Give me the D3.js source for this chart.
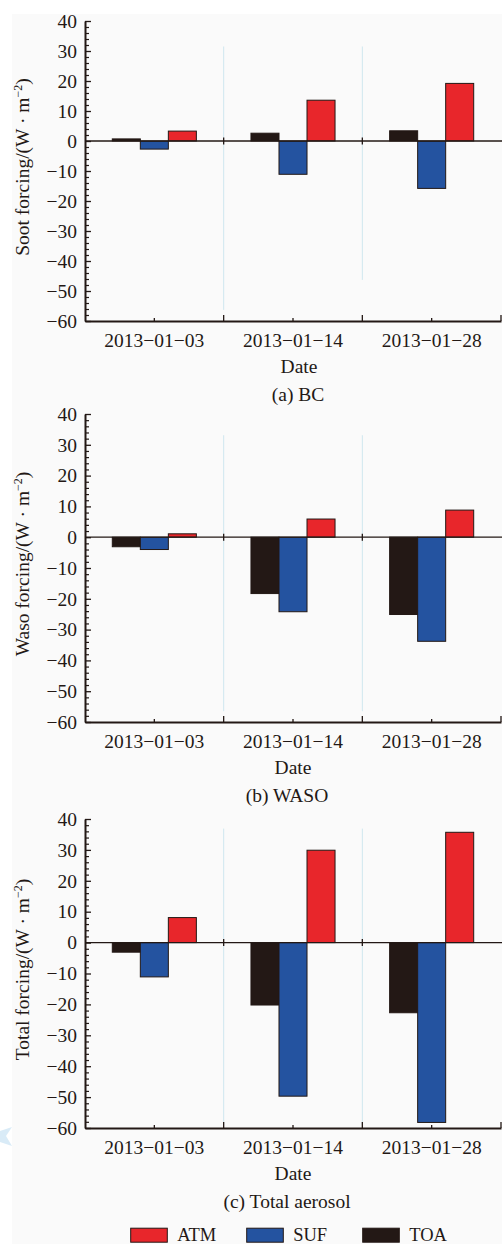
<!DOCTYPE html>
<html>
<head>
<meta charset="utf-8">
<script src="https://cdn.jsdelivr.net/npm/d3@7"></script>
<style>
  html, body { margin: 0; padding: 0; background: #fff; }
  svg { display: block; }
  text { font-family: "Liberation Serif", "DejaVu Serif", serif; fill: #231815; }
</style>
</head>
<body>
<svg id="chart" width="502" height="1244"></svg>
<script>
/************ data ************/
var dates = ["2013\u221201\u221203", "2013\u221201\u221214", "2013\u221201\u221228"];
var seriesNames = ["TOA", "SUF", "ATM"];
var legendOrder = ["ATM", "SUF", "TOA"];
var yTicks = [40, 30, 20, 10, 0, -10, -20, -30, -40, -50, -60];

// (a) BC
var bcTOA = [0.7, 2.6, 3.4];
var bcSUF = [-2.7, -11.1, -15.8];
var bcATM = [3.3, 13.6, 19.2];
// (b) WASO
var wasoTOA = [-3.1, -18.3, -25.1];
var wasoSUF = [-4.0, -24.2, -33.8];
var wasoATM = [1.1, 5.9, 8.8];
// (c) Total aerosol
var totTOA = [-3.1, -20.2, -22.7];
var totSUF = [-11.1, -49.7, -58.2];
var totATM = [8.1, 29.9, 35.7];

/************ styles / layout ************/
var colors = { ATM: "#e8262b", SUF: "#2453a0", TOA: "#231815" };
var ink = "#231815";
var fontSize = 19.5;

var panels = [
  { name: "Soot", caption: "(a) BC", top: 21, bottom: 321, dateX: 299, capX: 298,
    values: { TOA: bcTOA, SUF: bcSUF, ATM: bcATM }, guides: [[31.5, -56.3], [31.5, -46.3]] },
  { name: "Waso", caption: "(b) WASO", top: 414, bottom: 722, dateX: 293, capX: 287,
    values: { TOA: wasoTOA, SUF: wasoSUF, ATM: wasoATM }, guides: [[33.1, -56.5], [33.1, -56.5]] },
  { name: "Total", caption: "(c) Total aerosol", top: 819, bottom: 1128, dateX: 293, capX: 287,
    values: { TOA: totTOA, SUF: totSUF, ATM: totATM }, guides: [[36.9, -59.2], [36.9, -59.2]] }
];

var left = 85, right = 501;

var svg = d3.select("#chart");

// page background (scan tint)
svg.append("rect").attr("x", 12).attr("y", 14).attr("width", 490).attr("height", 1230).attr("fill", "#fafafa");

// faint watermark mark at left edge
svg.append("path")
  .attr("d", "M0,1131 L12,1127 L6,1136 L12,1146 L0,1142 Z")
  .attr("fill", "#cfe6f5").attr("opacity", 0.8);

var x0 = d3.scaleBand().domain(dates).range([left, right]).paddingInner(0).paddingOuter(0);
var x1 = d3.scaleBand().domain(seriesNames).range([27.3, x0.bandwidth() - 27.3]).padding(0);

panels.forEach(function (p) {
  var y = d3.scaleLinear().domain([-60, 40]).range([p.bottom, p.top]);
  var g = svg.append("g");

  // light blue separator guides
  dates.slice(1).forEach(function (d, i) {
    g.append("line")
      .attr("x1", x0(d)).attr("x2", x0(d))
      .attr("y1", y(p.guides[i][0])).attr("y2", y(p.guides[i][1]))
      .attr("stroke", "#cfe7ef").attr("stroke-width", 1);
  });

  // bars
  var rows = [];
  dates.forEach(function (d, i) {
    seriesNames.forEach(function (s) { rows.push({ date: d, key: s, v: p.values[s][i] }); });
  });
  g.selectAll("rect.bar").data(rows).enter().append("rect")
    .attr("class", "bar")
    .attr("x", function (d) { return x0(d.date) + x1(d.key); })
    .attr("width", x1.bandwidth())
    .attr("y", function (d) { return y(Math.max(0, d.v)); })
    .attr("height", function (d) { return Math.abs(y(d.v) - y(0)); })
    .attr("fill", function (d) { return colors[d.key]; })
    .attr("stroke", ink).attr("stroke-width", 1);

  // zero line + little crossing ticks at group boundaries
  g.append("line").attr("x1", left).attr("x2", right + 1).attr("y1", y(0)).attr("y2", y(0))
    .attr("stroke", ink).attr("stroke-width", 1.3);
  dates.slice(1).forEach(function (d) {
    g.append("line").attr("x1", x0(d)).attr("x2", x0(d)).attr("y1", y(0) - 3.5).attr("y2", y(0) + 3.5)
      .attr("stroke", ink).attr("stroke-width", 1.3);
  });

  // y axis: minor ticks then major
  var minor = d3.range(-60, 41, 2).filter(function (v) { return v % 10 !== 0; });
  g.append("g").attr("transform", "translate(" + left + ",0)")
    .call(d3.axisLeft(y).tickValues(minor).tickSize(-4).tickSizeOuter(0).tickFormat(""))
    .call(function (a) { a.select(".domain").remove(); a.selectAll("line").attr("stroke", ink).attr("stroke-width", 1.2); });
  g.append("g").attr("transform", "translate(" + left + ",0)")
    .call(d3.axisLeft(y).tickValues(yTicks).tickSize(-6).tickSizeOuter(0).tickPadding(8)
      .tickFormat(function (v) { return v < 0 ? "\u2212" + Math.abs(v) : v; }))
    .call(function (a) {
      a.select(".domain").attr("stroke", ink).attr("stroke-width", 2);
      a.selectAll("line").attr("stroke", ink).attr("stroke-width", 1.3);
      a.selectAll("text").attr("font-size", fontSize).attr("font-family", "Liberation Serif").attr("fill", ink);
    });

  // x axis
  var xa = g.append("g").attr("transform", "translate(0," + p.bottom + ")")
    .call(d3.axisBottom(x0).tickSize(-3).tickSizeOuter(0).tickPadding(12))
    .call(function (a) {
      a.select(".domain").attr("stroke", ink).attr("stroke-width", 2);
      a.selectAll("line").attr("stroke", ink).attr("stroke-width", 1.3);
      a.selectAll("text").attr("font-size", fontSize).attr("font-family", "Liberation Serif").attr("fill", ink);
    });
  dates.slice(1).concat([null]).forEach(function (d) {
    var xx = d ? x0(d) : right;
    xa.append("line").attr("x1", xx).attr("x2", xx).attr("y1", 0).attr("y2", -6)
      .attr("stroke", ink).attr("stroke-width", 1.3);
  });

  // labels
  g.append("text").attr("x", p.dateX).attr("y", p.bottom + 52).attr("text-anchor", "middle")
    .attr("font-size", fontSize).text("Date");
  g.append("text").attr("x", p.capX).attr("y", p.bottom + 79.5).attr("text-anchor", "middle")
    .attr("font-size", fontSize).text(p.caption);

  var yl = g.append("text")
    .attr("transform", "translate(29," + ((p.top + p.bottom) / 2 - 4) + ") rotate(-90)")
    .attr("text-anchor", "middle").attr("font-size", fontSize);
  yl.append("tspan").text(p.name + " forcing/(W \u00b7 m");
  yl.append("tspan").attr("font-size", 12).attr("dy", -7).text("\u22122");
  yl.append("tspan").attr("dy", 7).text(")");
});

// legend
var legendX = [130.7, 246.7, 362.7];
var lg = svg.append("g");
legendOrder.forEach(function (s, i) {
  lg.append("rect").attr("x", legendX[i]).attr("y", 1228.2).attr("width", 36.6).attr("height", 14)
    .attr("fill", colors[s]).attr("stroke", ink).attr("stroke-width", 1);
  lg.append("text").attr("x", legendX[i] + 46.5).attr("y", 1240.5).attr("font-size", 18.5).text(s);
});
</script>
</body>
</html>
